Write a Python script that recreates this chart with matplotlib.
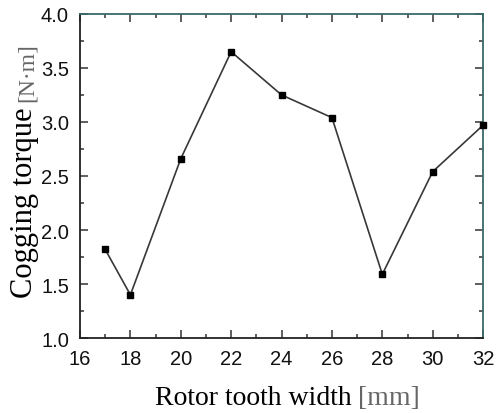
import numpy as np
import matplotlib
matplotlib.use("Agg")
import matplotlib.pyplot as plt
from matplotlib.ticker import MultipleLocator, FormatStrFormatter

# dados
largura_dente = [17, 18, 20, 22, 24, 26, 28, 30, 32]
torque = [1.82, 1.40, 2.66, 3.65, 3.25, 3.04, 1.59, 2.54, 2.97]

plt.rcParams["font.family"] = "Liberation Sans"
plt.rcParams["xtick.labelsize"] = 14.5
plt.rcParams["ytick.labelsize"] = 14.5

fig = plt.figure(figsize=(4.97, 4.14), dpi=100)
ax = fig.add_axes([0.161, 0.181, 0.811, 0.783])

ax.plot(largura_dente, torque, color="#383838", lw=1.2, marker="s",
        markersize=5, markerfacecolor="black", markeredgecolor="black",
        clip_on=False, zorder=3)

ax.set_xlim(16, 32)
ax.set_ylim(1.0, 4.0)
ax.xaxis.set_major_locator(MultipleLocator(2))
ax.xaxis.set_minor_locator(MultipleLocator(1))
ax.yaxis.set_major_locator(MultipleLocator(0.5))
ax.yaxis.set_minor_locator(MultipleLocator(0.25))
ax.yaxis.set_major_formatter(FormatStrFormatter("%.1f"))

ax.tick_params(which="both", direction="in", top=True, right=True,
               labeltop=False, labelright=False, color="#333333", width=1.1,
               labelcolor="#111111")
ax.tick_params(which="major", length=6)
ax.tick_params(which="minor", length=3)
ax.tick_params(axis="x", pad=8)
ax.tick_params(axis="y", pad=8)

for lado in ["left", "bottom"]:
    ax.spines[lado].set_color("#222222")
    ax.spines[lado].set_linewidth(1.3)
for lado in ["top", "right"]:
    ax.spines[lado].set_color("#3a6a6a")
    ax.spines[lado].set_linewidth(1.3)

# rótulos com a unidade em cinza
fig.text(0.708, 0.022, "Rotor tooth width", color="black", ha="right",
         va="baseline", family="Liberation Serif", size=20)
fig.text(0.720, 0.022, "[mm]", color="#666666", ha="left",
         va="baseline", family="Liberation Serif", size=20)

fig.text(0.065, 0.741, "Cogging torque", color="black", rotation=90,
         rotation_mode="anchor", ha="right", va="baseline",
         family="Liberation Serif", size=22)
fig.text(0.065, 0.753, "[N\u00b7m]", color="#666666", rotation=90,
         rotation_mode="anchor", ha="left", va="baseline",
         family="Liberation Serif", size=17)

fig.savefig("out.png", dpi=100)
